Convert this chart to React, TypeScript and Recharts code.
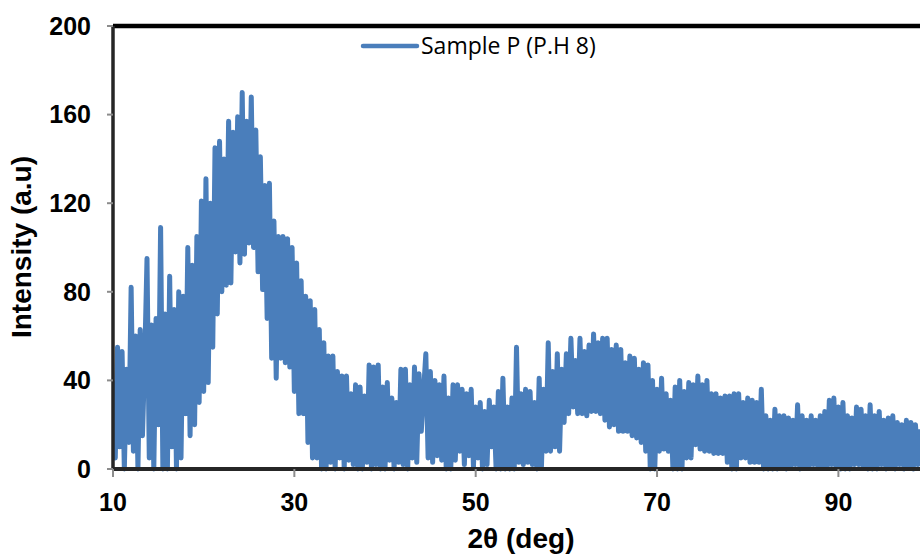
import React from 'react';
import { LineChart, Line, XAxis, YAxis, Legend, ReferenceLine } from 'recharts';

const seriesName = 'Sample P (P.H 8)';
const xTicks = [10, 30, 50, 70, 90];
const yTicks = [0, 40, 80, 120, 160, 200];

const angles = [
  10, 10.25, 10.5, 10.75, 11, 11.25, 11.5, 11.75, 12, 12.25, 12.5, 12.75,
  13, 13.25, 13.5, 13.75, 14, 14.25, 14.5, 14.75, 15, 15.25, 15.5, 15.75,
  16, 16.25, 16.5, 16.75, 17, 17.25, 17.5, 17.75, 18, 18.25, 18.5, 18.75,
  19, 19.25, 19.5, 19.75, 20, 20.25, 20.5, 20.75, 21, 21.25, 21.5, 21.75,
  22, 22.25, 22.5, 22.75, 23, 23.25, 23.5, 23.75, 24, 24.25, 24.5, 24.75,
  25, 25.25, 25.5, 25.75, 26, 26.25, 26.5, 26.75, 27, 27.25, 27.5, 27.75,
  28, 28.25, 28.5, 28.75, 29, 29.25, 29.5, 29.75, 30, 30.25, 30.5, 30.75,
  31, 31.25, 31.5, 31.75, 32, 32.25, 32.5, 32.75, 33, 33.25, 33.5, 33.75,
  34, 34.25, 34.5, 34.75, 35, 35.25, 35.5, 35.75, 36, 36.25, 36.5, 36.75,
  37, 37.25, 37.5, 37.75, 38, 38.25, 38.5, 38.75, 39, 39.25, 39.5, 39.75,
  40, 40.25, 40.5, 40.75, 41, 41.25, 41.5, 41.75, 42, 42.25, 42.5, 42.75,
  43, 43.25, 43.5, 43.75, 44, 44.25, 44.5, 44.75, 45, 45.25, 45.5, 45.75,
  46, 46.25, 46.5, 46.75, 47, 47.25, 47.5, 47.75, 48, 48.25, 48.5, 48.75,
  49, 49.25, 49.5, 49.75, 50, 50.25, 50.5, 50.75, 51, 51.25, 51.5, 51.75,
  52, 52.25, 52.5, 52.75, 53, 53.25, 53.5, 53.75, 54, 54.25, 54.5, 54.75,
  55, 55.25, 55.5, 55.75, 56, 56.25, 56.5, 56.75, 57, 57.25, 57.5, 57.75,
  58, 58.25, 58.5, 58.75, 59, 59.25, 59.5, 59.75, 60, 60.25, 60.5, 60.75,
  61, 61.25, 61.5, 61.75, 62, 62.25, 62.5, 62.75, 63, 63.25, 63.5, 63.75,
  64, 64.25, 64.5, 64.75, 65, 65.25, 65.5, 65.75, 66, 66.25, 66.5, 66.75,
  67, 67.25, 67.5, 67.75, 68, 68.25, 68.5, 68.75, 69, 69.25, 69.5, 69.75,
  70, 70.25, 70.5, 70.75, 71, 71.25, 71.5, 71.75, 72, 72.25, 72.5, 72.75,
  73, 73.25, 73.5, 73.75, 74, 74.25, 74.5, 74.75, 75, 75.25, 75.5, 75.75,
  76, 76.25, 76.5, 76.75, 77, 77.25, 77.5, 77.75, 78, 78.25, 78.5, 78.75,
  79, 79.25, 79.5, 79.75, 80, 80.25, 80.5, 80.75, 81, 81.25, 81.5, 81.75,
  82, 82.25, 82.5, 82.75, 83, 83.25, 83.5, 83.75, 84, 84.25, 84.5, 84.75,
  85, 85.25, 85.5, 85.75, 86, 86.25, 86.5, 86.75, 87, 87.25, 87.5, 87.75,
  88, 88.25, 88.5, 88.75, 89, 89.25, 89.5, 89.75, 90, 90.25, 90.5, 90.75,
  91, 91.25, 91.5, 91.75, 92, 92.25, 92.5, 92.75, 93, 93.25, 93.5, 93.75,
  94, 94.25, 94.5, 94.75, 95, 95.25, 95.5, 95.75, 96, 96.25, 96.5, 96.75,
  97, 97.25, 97.5, 97.75, 98, 98.25, 98.5, 98.75, 99,
];

const intensity = [
  40, 5, 55, 10, 53, 0, 45, 12, 82, 8, 60, 0,
  63, 15, 50, 95, 5, 65, 0, 68, 20, 109, 0, 70,
  0, 87, 10, 72, 0, 80, 5, 78, 25, 100, 15, 92,
  20, 105, 30, 121, 35, 131, 39, 120, 55, 145, 70, 148,
  80, 140, 83, 157, 84, 152, 98, 159, 93, 170, 97, 157,
  102, 168, 100, 153, 89, 141, 81, 128, 68, 129, 50, 112,
  41, 105, 50, 105, 48, 104, 46, 100, 35, 93, 25, 85,
  25, 78, 12, 76, 5, 72, 5, 63, 0, 57, 0, 51,
  3, 51, 0, 44, 5, 42, 0, 42, 4, 34, 2, 38,
  0, 37, 0, 33, 3, 47, 0, 46, 2, 47, 0, 37,
  0, 39, 4, 32, 0, 30, 3, 45, 2, 45, 0, 38,
  5, 46, 3, 43, 17, 35, 52, 5, 44, 3, 40, 6,
  38, 4, 42, 0, 32, 0, 38, 4, 38, 8, 36, 2,
  34, 6, 36, 1, 28, 5, 30, 0, 26, 2, 31, 10,
  28, 0, 35, 0, 41, 0, 28, 0, 32, 0, 55, 3,
  34, 2, 36, 3, 35, 2, 30, 0, 41, 1, 36, 8,
  57, 8, 44, 10, 52, 8, 45, 21, 52, 25, 59, 28,
  49, 25, 59, 25, 53, 24, 56, 26, 61, 26, 57, 25,
  59, 22, 59, 19, 54, 20, 56, 17, 54, 17, 48, 17,
  51, 15, 50, 14, 45, 12, 48, 8, 47, 0, 40, 0,
  36, 8, 41, 9, 34, 8, 31, 0, 37, 0, 40, 0,
  35, 5, 39, 5, 38, 11, 42, 9, 38, 8, 40, 8,
  34, 7, 34, 7, 32, 7, 33, 3, 33, 0, 34, 0,
  34, 5, 30, 5, 32, 3, 31, 3, 30, 3, 36, 0,
  24, 0, 22, 0, 27, 0, 24, 1, 24, 0, 23, 1,
  22, 2, 29, 0, 24, 1, 22, 1, 24, 2, 22, 1,
  24, 1, 26, 1, 31, 2, 32, 1, 28, 0, 30, 0,
  24, 0, 23, 2, 28, 2, 27, 1, 24, 0, 29, 0,
  24, 0, 26, 2, 22, 0, 23, 1, 24, 0, 21, 2,
  20, 0, 22, 1, 21, 0, 20, 2, 18,
];

const data = angles.map((a, i) => ({ angle: a, intensity: intensity[i] }));

const LINE_COLOR = '#4a7ebb';
const tickFont = {
  fontFamily: '"Liberation Sans", Arial, sans-serif',
  fontWeight: 700,
  fontSize: 25,
  fill: '#000',
};

const LegendContent = () => (
  <div style={{ display: 'flex', alignItems: 'center', height: 31, whiteSpace: 'nowrap' }}>
    <svg width={60} height={10} style={{ display: 'block' }}>
      <line x1={3} y1={5} x2={57} y2={5} stroke={LINE_COLOR} strokeWidth={4.5} strokeLinecap="round" />
    </svg>
    <span
      style={{
        fontFamily: '"Open Sans", "Noto Sans", sans-serif',
        fontSize: 23,
        lineHeight: '31px',
        color: '#000',
        marginLeft: 1,
      }}
    >
      {seriesName}
    </span>
  </div>
);

export default function App() {
  return (
    <div style={{ position: 'absolute', left: 0, top: 0, width: 920, height: 555, background: '#fff', overflow: 'hidden' }}>
      <LineChart width={920} height={555} data={data} margin={{ top: 26, right: 0, bottom: 26, left: 13 }}>
        <XAxis
          dataKey="angle"
          type="number"
          domain={[10, 99]}
          ticks={xTicks}
          allowDataOverflow
          height={60}
          axisLine={{ stroke: '#262626', strokeWidth: 4 }}
          tickLine={{ stroke: '#8c8c8c', strokeWidth: 2 }}
          tickSize={8}
          tickMargin={16}
          tick={tickFont}
        />
        <YAxis
          type="number"
          domain={[0, 200]}
          ticks={yTicks}
          width={100}
          axisLine={{ stroke: '#262626', strokeWidth: 3.5 }}
          tickLine={{ stroke: '#8c8c8c', strokeWidth: 2 }}
          tickSize={6}
          tickMargin={16}
          tick={tickFont}
        />
        <ReferenceLine y={200} stroke="#000" strokeWidth={4.5} ifOverflow="visible" />
        <Legend
          verticalAlign="middle"
          align="center"
          layout="horizontal"
          content={<LegendContent />}
          wrapperStyle={{ left: 360, top: 30, width: 300, height: 31 }}
        />
        <Line
          type="linear"
          dataKey="intensity"
          name={seriesName}
          stroke={LINE_COLOR}
          strokeWidth={5}
          strokeLinejoin="round"
          dot={false}
          activeDot={false}
          isAnimationActive={false}
        />
      </LineChart>
      <div
        style={{
          position: 'absolute',
          left: 22,
          top: 247,
          transform: 'translate(-50%, -50%) rotate(-90deg)',
          whiteSpace: 'nowrap',
          fontFamily: '"Liberation Sans", Arial, sans-serif',
          fontWeight: 700,
          fontSize: 28,
          lineHeight: '32px',
          color: '#000',
        }}
      >
        Intensity (a.u)
      </div>
      <div
        style={{
          position: 'absolute',
          left: 521,
          top: 523,
          transform: 'translateX(-50%)',
          whiteSpace: 'nowrap',
          fontFamily: '"Liberation Sans", Arial, sans-serif',
          fontWeight: 700,
          fontSize: 28,
          lineHeight: '32px',
          color: '#000',
        }}
      >
        2θ (deg)
      </div>
    </div>
  );
}
